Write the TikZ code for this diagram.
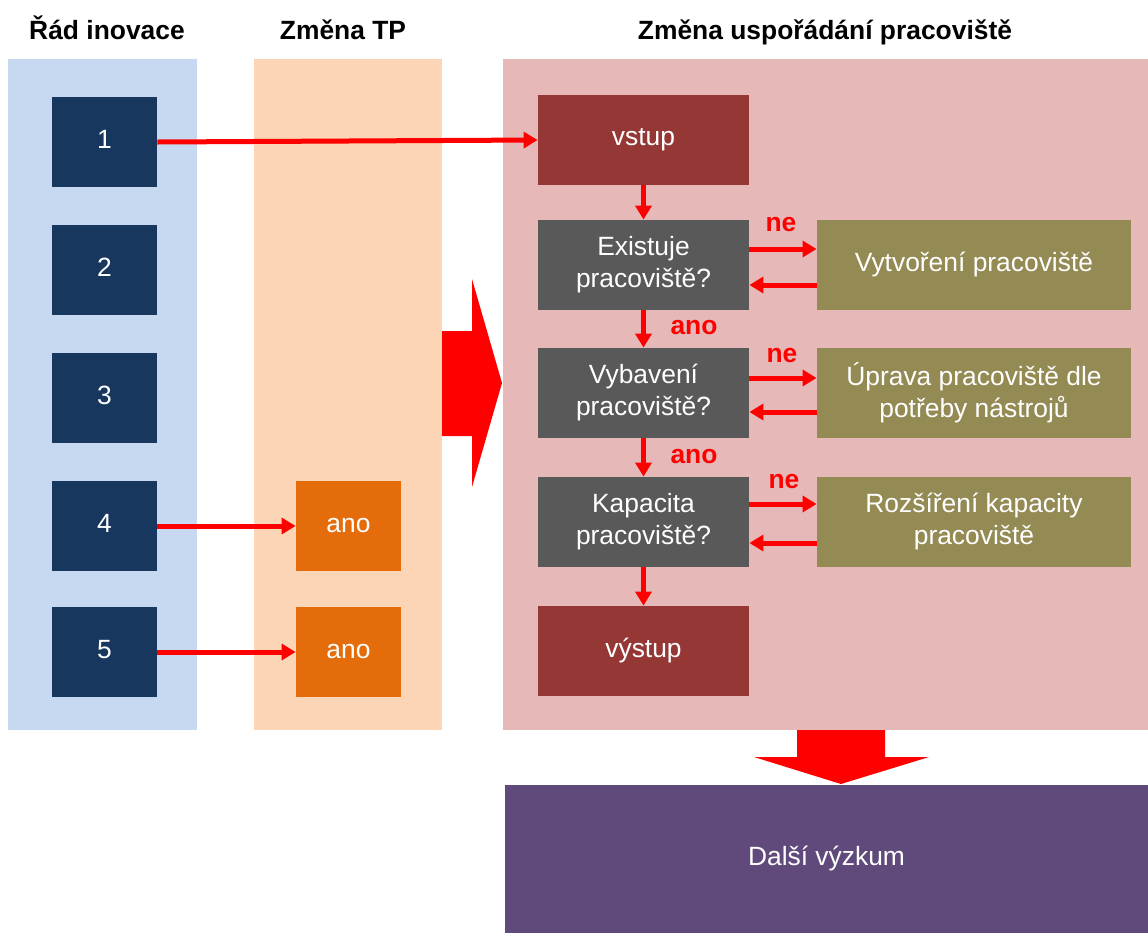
\documentclass[tikz,border=0pt]{standalone}
\usepackage{fontspec}
\setmainfont{Liberation Sans}
\usetikzlibrary{arrows.meta}

\definecolor{panelblue}{HTML}{C6D9F1}
\definecolor{panelorange}{HTML}{FBD5B5}
\definecolor{panelpink}{HTML}{E6B9B8}
\definecolor{navy}{HTML}{17375E}
\definecolor{orangebox}{HTML}{E46C0A}
\definecolor{brick}{HTML}{953735}
\definecolor{darkgray}{HTML}{595959}
\definecolor{olivebox}{HTML}{948A54}
\definecolor{purplebox}{HTML}{604A7B}

\begin{document}
\begin{tikzpicture}[x=0.5pt,y=-0.5pt,
  box/.style={inner sep=0pt,text=white,align=center,font=\fontsize{13.2}{16}\selectfont},
  order/.style={box,fill=navy,minimum width=52.5pt,minimum height=45pt,text height=10pt,text depth=4pt},
  tpbox/.style={box,fill=orangebox,minimum width=52.5pt,minimum height=45pt,text height=10pt,text depth=4pt},
  flowbox/.style={box,minimum width=105.5pt,minimum height=45pt},
  fixbox/.style={box,fill=olivebox,minimum width=157pt,minimum height=45pt},
  head/.style={anchor=base,font=\fontsize{13.2}{16}\selectfont\bfseries},
  lab/.style={font=\fontsize{13.2}{16}\selectfont\bfseries,text=red},
  arr/.style={draw=red,line width=2.5pt,-{Triangle[length=7pt,width=8pt]}}]

\useasboundingbox (0,0) rectangle (1148,933);

% panels
\fill[panelblue] (8,59) rectangle (197,730);
\fill[panelorange] (254,59) rectangle (442,730);
\fill[panelpink] (503,59) rectangle (1148,730);

\node[head] (h1) at (107,39) {Řád inovace};
\node[head] (h2) at (343,39) {Změna TP};
\node[head] (h3) at (825,39) {Změna uspořádání pracoviště};

% big arrows
\fill[red] (442,331) -- (472,331) -- (472,279) -- (502,383) -- (472,487)
  -- (472,436) -- (442,436) -- cycle;
\fill[red] (797,730) -- (885,730) -- (885,757) -- (929,757) -- (841,784)
  -- (754,757) -- (797,757) -- cycle;

% rad inovace
\node[order] (n1) at (104.5,142) {1};
\node[order] (n2) at (104.5,270) {2};
\node[order] (n3) at (104.5,398) {3};
\node[order] (n4) at (104.5,526) {4};
\node[order] (n5) at (104.5,652) {5};

% zmena TP
\node[tpbox] (tp4) at (348.5,526) {ano};
\node[tpbox] (tp5) at (348.5,652) {ano};

% pracoviste
\node[flowbox,fill=brick] (vstup) at (643.5,140) {vstup};
\node[flowbox,fill=darkgray] (ex) at (643.5,265) {Existuje\\pracoviště?};
\node[flowbox,fill=darkgray] (vyb) at (643.5,393) {Vybavení\\pracoviště?};
\node[flowbox,fill=darkgray] (kap) at (643.5,522) {Kapacita\\pracoviště?};
\node[flowbox,fill=brick] (vystup) at (643.5,651) {výstup};

\node[fixbox] (vyt) at (974,265) {Vytvoření pracoviště};
\node[fixbox] (upr) at (974,393) {Úprava pracoviště dle\\potřeby nástrojů};
\node[fixbox] (roz) at (974,522) {Rozšíření kapacity\\pracoviště};

\node[box,fill=purplebox,minimum width=321.5pt,minimum height=74pt] (dalsi)
  at (826.5,859) {Další výzkum};

\draw[arr] (n1.east) -- (vstup.west);
\draw[arr] (n4.east) -- (tp4.west);
\draw[arr] (n5.east) -- (tp5.west);

\draw[arr] (vstup.south) -- (ex.north);
\draw[arr] (ex.south) -- (vyb.north);
\draw[arr] (vyb.south) -- (kap.north);
\draw[arr] (kap.south) -- (vystup.north);

\draw[arr] ([yshift=8pt]ex.east) -- ([yshift=8pt]vyt.west);
\draw[arr] ([yshift=-10pt]vyt.west) -- ([yshift=-10pt]ex.east);
\draw[arr] ([yshift=7.5pt]vyb.east) -- ([yshift=7.5pt]upr.west);
\draw[arr] ([yshift=-9.5pt]upr.west) -- ([yshift=-9.5pt]vyb.east);
\draw[arr] ([yshift=9pt]kap.east) -- ([yshift=9pt]roz.west);
\draw[arr] ([yshift=-10.5pt]roz.west) -- ([yshift=-10.5pt]kap.east);

\node[lab] (ne1) at (781,225) {ne};
\node[lab] (ne2) at (782,356) {ne};
\node[lab] (ne3) at (784,482) {ne};
\node[lab] (ano1) at (694,328) {ano};
\node[lab] (ano2) at (694,457) {ano};

\end{tikzpicture}
\end{document}
